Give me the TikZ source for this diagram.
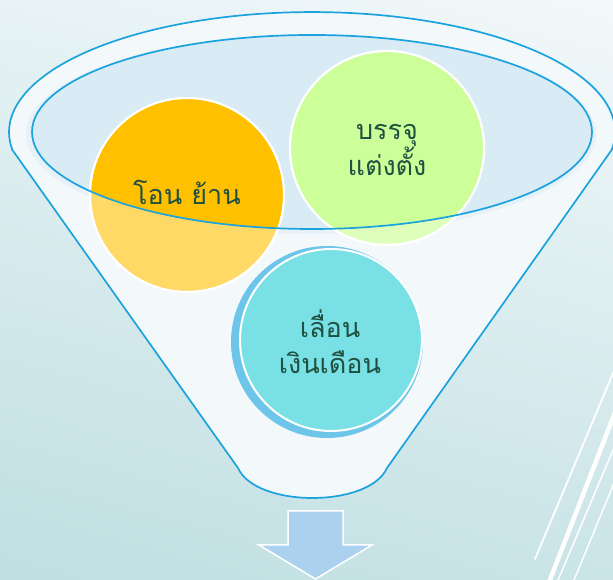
\documentclass[tikz,border=0pt]{standalone}
\usepackage{fontspec}
\newfontfamily\thaifont[Script=Thai]{Loma}
\definecolor{bgtop}{HTML}{F2F8FA}
\definecolor{bgmid}{HTML}{E4F2F4}
\definecolor{bgbot}{HTML}{BFDFE2}
\definecolor{funfill}{HTML}{F3F9FA}
\definecolor{funline}{HTML}{1CA3DE}
\definecolor{inell}{HTML}{D9EBF5}
\definecolor{inhalo}{HTML}{E6F2F8}
\definecolor{orsat}{HTML}{FFC000}
\definecolor{orlt}{HTML}{FFD966}
\definecolor{grsat}{HTML}{CCFF99}
\definecolor{grlt}{HTML}{DDFFBB}
\definecolor{tealfill}{HTML}{79E1E5}
\definecolor{tealring}{HTML}{6DC5EA}
\definecolor{txt}{HTML}{1F5141}
\definecolor{arrowfill}{HTML}{ACD1EE}
\tikzset{
  funnelline/.style={draw=funline, line width=1.7pt},
  bubble/.style={circle, draw=white, line width=2pt, minimum size=194pt, inner sep=0pt},
  label/.style={font=\thaifont\fontsize{27}{36}\selectfont, text=txt, align=center},
  streak/.style={draw=white, line cap=round},
}
\begin{document}
\begin{tikzpicture}[x=1pt,y=1pt]
\useasboundingbox (0,0) rectangle (613,580);
% background
\shade[top color=bgtop, middle color=bgmid, bottom color=bgbot, shading angle=-15] (-60,-60) rectangle (673,640);
% streaks
\begin{scope}
\clip (0,0) rectangle (613,580);
\draw[streak, line width=1.8pt] (535,21) -- (640,271);
\draw[streak, line width=4.5pt] (548,-5) -- (640,232);
\draw[streak, line width=1.5pt] (556,-5) -- (640,194);
\draw[streak, line width=1.5pt] (572,-5) -- (640,160);
\end{scope}
% funnel body
\path[fill=funfill, funnelline] (12.4,430) -- (238,112) .. controls (256,72) and (369,72) .. (387,112) -- (611.6,430)
  arc[start angle=-8.6, end angle=188.6, x radius=303, y radius=120] -- cycle;
% inner ellipse
\fill[inhalo] (311,446) ellipse[x radius=285, y radius=100];
\fill[inell] (312,448) ellipse[x radius=280, y radius=97];
% orange and green bubbles
\node[bubble, fill=orlt] (oc) at (187,385) {};
\node[bubble, fill=grlt] (gc) at (387,432) {};
\begin{scope}
\clip (312,448) ellipse[x radius=280, y radius=97];
\fill[orsat] (oc.center) circle (96);
\fill[grsat] (gc.center) circle (96);
\end{scope}
\draw[white, line width=2pt] (oc.center) circle (97);
\draw[white, line width=2pt] (gc.center) circle (97);
\draw[funnelline] (312,448) ellipse[x radius=280, y radius=97];
% teal bubble
\fill[tealring] (327,238) circle (96);
\node[bubble, fill=tealfill, minimum size=182pt] (tc) at (331,240) {};
% labels
\node[label] (ot) at (187,388) {โอน ย้าน};
\node[label] (gt) at (387,430) {บรรจุ\\แต่งตั้ง};
\node[label] (tt) at (330,238) {เลื่อน\\เงินเดือน};
% arrow
\draw[fill=arrowfill, draw=white, line width=1.5pt] (288,69) -- (343,69) -- (343,35) -- (372,35) -- (315.5,1) -- (259,35) -- (288,35) -- cycle;
\end{tikzpicture}
\end{document}
